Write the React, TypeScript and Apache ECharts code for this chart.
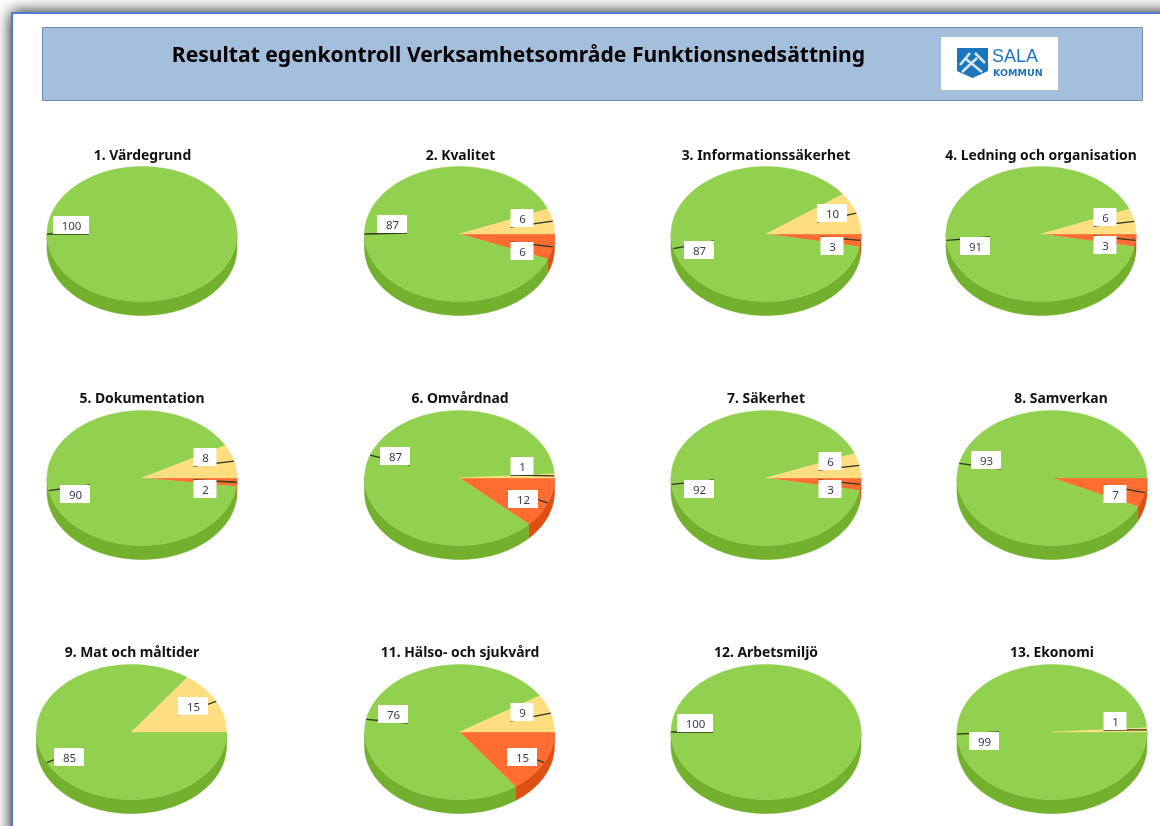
import React, { useEffect, useRef } from "react";
import * as echarts from "echarts";

const MAIN_TITLE = "Resultat egenkontroll Verksamhetsområde Funktionsnedsättning";
const pieTitles = [
  "1. Värdegrund", "2. Kvalitet", "3. Informationssäkerhet", "4. Ledning och organisation",
  "5. Dokumentation", "6. Omvårdnad", "7. Säkerhet", "8. Samverkan",
  "9. Mat och måltider", "11. Hälso- och sjukvård", "12. Arbetsmiljö", "13. Ekonomi",
];
// clockwise from 3 o'clock: red, green, yellow
const redValues = [0, 6, 3, 3, 2, 12, 3, 7, 0, 15, 0, 0];
const greenValues = [100, 87, 87, 91, 90, 87, 92, 93, 85, 76, 100, 99];
const yellowValues = [0, 6, 10, 6, 8, 1, 6, 0, 15, 9, 0, 1];

const centers = [
  [142, 234], [459.5, 234], [766, 234], [1041, 234],
  [142, 478], [459.5, 478], [766, 478], [1052, 478],
  [131.5, 732], [459.5, 732], [766, 732], [1052, 732],
];
const titleAnchors = [
  [142.5, 146], [460.5, 146], [766, 146], [1041, 146],
  [142, 389], [460, 389], [766, 389], [1061, 389],
  [132, 643], [460, 643], [766, 643], [1052, 643],
];
// label centre per slice [red, green, yellow]; optional third item forces the leader's attachment edge
const labelSpots: any[][] = [
  [null, [71, 225], null],
  [[522, 251], [392, 224], [522, 218]],
  [[832, 246], [699, 250], [832, 213]],
  [[1105, 245], [975, 246], [1105, 217]],
  [[205, 489], [75, 494], [205, 457]],
  [[523, 499], [395, 456], [522, 466]],
  [[830, 489], [699, 489], [830, 461]],
  [[1115, 494], [986, 460], null],
  [null, [69, 757], [193, 706]],
  [[522, 757], [393, 714], [522, 712]],
  [null, [695, 723], null],
  [null, [984, 741, "top"], [1115, 721]],
];

const RX = 95, RY = 67.5, DEPTH = 14;
const topColors = ["#FF6D33", "#92D050", "#FFDE82"];
const sideColors = ["#DE4F14", "#72B02D", "#E8BE55"];
const LABEL_FONT = "Noto Sans";
const TITLE_FONT = "Noto Sans";

function arcPoints(cx: number, cy: number, a0: number, a1: number) {
  const n = Math.max(2, Math.ceil(Math.abs(a1 - a0) / 1.5));
  const pts: number[][] = [];
  for (let k = 0; k <= n; k++) {
    const a = ((a0 + ((a1 - a0) * k) / n) * Math.PI) / 180;
    pts.push([cx + RX * Math.cos(a), cy + RY * Math.sin(a)]);
  }
  return pts;
}

function pieSeries(i: number) {
  const vals = [redValues[i], greenValues[i], yellowValues[i]];
  const total = vals[0] + vals[1] + vals[2];
  const [cx, cy] = centers[i];
  const rows = vals.map((v, s) => [s, v]).filter((r) => r[1] > 0);
  return {
    type: "custom",
    coordinateSystem: "none",
    silent: true,
    clip: false,
    data: rows,
    renderItem: (_p: any, api: any) => {
      const s = api.value(0);
      const v = api.value(1);
      let before = 0;
      for (let k = 0; k < s; k++) before += vals[k];
      const a0 = (before / total) * 360;
      const a1 = ((before + v) / total) * 360;
      const children: any[] = [];
      // visible wall: the part of the slice on the front half
      const w0 = Math.max(a0, 0);
      const w1 = Math.min(a1, 180);
      if (w1 > w0) {
        const upper = arcPoints(cx, cy, w0, w1);
        const lower = arcPoints(cx, cy + DEPTH, w1, w0);
        children.push({
          type: "polygon",
          z2: 1,
          shape: { points: upper.concat(lower) },
          style: { fill: sideColors[s], stroke: sideColors[s], lineWidth: 0.5 },
        });
      }
      const full = a1 - a0 >= 359.99;
      const rim = arcPoints(cx, cy, a0, a1);
      children.push({
        type: "polygon",
        z2: 2,
        shape: { points: full ? rim : [[cx, cy], ...rim] },
        style: { fill: topColors[s], stroke: topColors[s], lineWidth: 0.4 },
      });
      const spot = labelSpots[i][s];
      if (spot) {
        const text = String(v);
        const bw = text.length === 1 ? 23 : text.length === 2 ? 30 : 36;
        const bh = 18;
        const mid = (((a0 + a1) / 2) * Math.PI) / 180;
        const rx = cx + RX * Math.cos(mid);
        const ry = cy + RY * Math.sin(mid);
        const attachTop = spot[2] ? spot[2] === "top" : Math.sin(mid) > 0.05;
        const tx = spot[0] + (Math.cos(mid) < 0 ? bw / 2 : -bw / 2);
        const ty = spot[1] + (attachTop ? -bh / 2 : bh / 2);
        children.push({
          type: "line",
          z2: 3,
          shape: { x1: rx, y1: ry, x2: tx, y2: ty },
          style: { stroke: "#2f3a22", lineWidth: 1.3 },
        });
        children.push({
          type: "rect",
          z2: 4,
          shape: { x: spot[0] - bw / 2, y: spot[1] - bh / 2, width: bw, height: bh },
          style: { fill: "#ffffff" },
        });
        children.push({
          type: "text",
          z2: 5,
          style: {
            text,
            x: spot[0] + 0.5,
            y: spot[1],
            textAlign: "center",
            textVerticalAlign: "middle",
            fontFamily: LABEL_FONT,
            fontSize: 11.5,
            fill: "#3b3b55",
          },
        });
      }
      return { type: "group", children };
    },
  };
}

function buildOption() {
  const titles: any[] = [
    {
      text: MAIN_TITLE,
      left: 518.5,
      top: 39,
      padding: 0,
      textAlign: "center",
      textStyle: { fontFamily: TITLE_FONT, fontSize: 21.1, fontWeight: "bold", color: "#000", lineHeight: 28 },
    },
  ];
  pieTitles.forEach((t, i) => {
    titles.push({
      text: t,
      left: titleAnchors[i][0],
      top: titleAnchors[i][1],
      padding: 0,
      textAlign: "center",
      textStyle: { fontFamily: TITLE_FONT, fontSize: 13.9, fontWeight: "bold", color: "#111", lineHeight: 16 },
    });
  });
  const hammer = "#d7e4f0";
  return {
    animation: false,
    backgroundColor: "#ffffff",
    title: titles,
    series: pieTitles.map((_, i) => pieSeries(i)),
    graphic: [
      {
        type: "rect",
        z: 0,
        shape: { x: 12, y: 13, width: 1300, height: 1000 },
        style: { fill: "#fff", stroke: "#5079D8", lineWidth: 2, shadowBlur: 16, shadowColor: "rgba(0,0,0,0.95)" },
      },
      {
        type: "rect",
        z: 1,
        shape: { x: 42.5, y: 27.5, width: 1100, height: 73 },
        style: { fill: "#A3BFDC", stroke: "#6F90BF", lineWidth: 1 },
      },
      { type: "rect", z: 2, shape: { x: 941, y: 37, width: 117, height: 53 }, style: { fill: "#fff" } },
      {
        type: "polygon",
        z: 3,
        shape: { points: [[957, 48], [988, 48], [988, 71], [972.5, 78], [957, 71]] },
        style: { fill: "#1B75BC" },
      },
      { type: "line", z: 4, shape: { x1: 962, y1: 72, x2: 977, y2: 58 }, style: { stroke: hammer, lineWidth: 2.6 } },
      { type: "line", z: 4, shape: { x1: 982, y1: 72, x2: 966, y2: 59 }, style: { stroke: hammer, lineWidth: 2.6 } },
      { type: "line", z: 4, shape: { x1: 975, y1: 53, x2: 985, y2: 63 }, style: { stroke: hammer, lineWidth: 2.6 } },
      { type: "line", z: 4, shape: { x1: 960, y1: 65, x2: 970, y2: 53 }, style: { stroke: hammer, lineWidth: 2.6 } },
      {
        type: "text",
        z: 4,
        style: { text: "SALA", x: 992, y: 55.5, textVerticalAlign: "middle", fontFamily: "Liberation Sans", fontSize: 18, fill: "#1B75BC" },
      },
      {
        type: "text",
        z: 4,
        style: { text: "KOMMUN", x: 993, y: 72, textVerticalAlign: "middle", fontFamily: "DejaVu Sans", fontSize: 9.5, fontWeight: 700, fill: "#1B75BC" },
      },
    ],
  };
}

export default function App() {
  const ref = useRef<HTMLDivElement>(null);
  useEffect(() => {
    document.body.style.margin = "0";
    const chart = echarts.init(ref.current!, undefined, { renderer: "svg" });
    chart.setOption(buildOption() as any);
    return () => chart.dispose();
  }, []);
  return <div ref={ref} style={{ width: 1160, height: 826, overflow: "hidden", filter: "blur(0.4px)" }} />;
}
